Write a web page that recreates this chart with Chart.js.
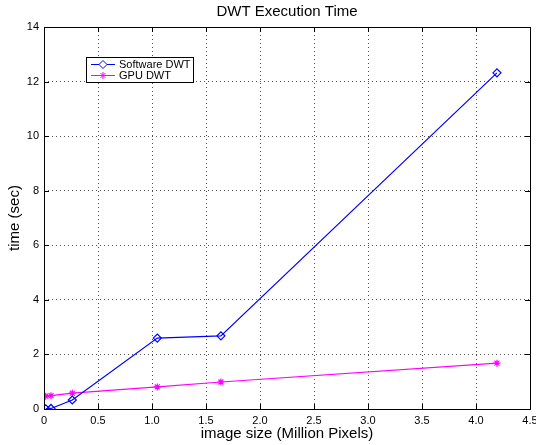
<!DOCTYPE html>
<html>
<head>
<meta charset="utf-8">
<script src="https://cdn.jsdelivr.net/npm/chart.js@4/dist/chart.umd.min.js"></script>
<style>
    body { margin: 0; background: #fff; }
    #wrap { width: 536px; height: 445px; }
</style>
</head>
<body>
<div id="wrap"><canvas id="dwtChart" width="536" height="445"></canvas></div>
<script>
// image sizes in million pixels (128^2 ... 2048^2)
const imageSizes = [0.016, 0.065, 0.262, 1.049, 1.638, 4.194];
const softwareTimes = [0.01, 0.02, 0.33, 2.6, 2.68, 12.32];
const gpuTimes = [0.47, 0.49, 0.58, 0.81, 0.99, 1.68];
const xTickValues = [0, 0.5, 1, 1.5, 2, 2.5, 3, 3.5, 4, 4.5];
const yTickValues = [0, 2, 4, 6, 8, 10, 12, 14];

const FONT = 'Liberation Sans, Arial, Helvetica, sans-serif';

function toPoints(xs, ys) {
    return xs.map((x, i) => ({ x: x, y: ys[i] }));
}

// box around the plot, inward ticks, legend box
const matlabFrame = {
    id: 'matlabFrame',
    afterLayout(chart) {
        // center the title over the axes, not the whole canvas
        if (chart.titleBlock) {
            chart.titleBlock.left = chart.chartArea.left;
            chart.titleBlock.right = chart.chartArea.right;
        }
    },
    afterDraw(chart) {
        const ctx = chart.ctx;
        const a = chart.chartArea;
        const xs = chart.scales.x, ys = chart.scales.y;
        ctx.save();
        ctx.strokeStyle = '#000';
        ctx.lineWidth = 1;
        ctx.strokeRect(Math.round(a.left) + 0.5, Math.round(a.top) + 0.5,
            Math.round(a.right - a.left), Math.round(a.bottom - a.top));

        // tick marks pointing inward on all four sides
        const len = 5;
        ctx.beginPath();
        xTickValues.forEach(v => {
            const px = Math.round(xs.getPixelForValue(v)) + 0.5;
            ctx.moveTo(px, a.bottom); ctx.lineTo(px, a.bottom - len);
            ctx.moveTo(px, a.top); ctx.lineTo(px, a.top + len);
        });
        yTickValues.forEach(v => {
            const py = Math.round(ys.getPixelForValue(v)) + 0.5;
            ctx.moveTo(a.left, py); ctx.lineTo(a.left + len, py);
            ctx.moveTo(a.right, py); ctx.lineTo(a.right - len, py);
        });
        ctx.stroke();

        // legend
        const lx = 86, ly = 57, lw = 107, lh = 25;
        ctx.fillStyle = '#fff';
        ctx.fillRect(lx, ly, lw, lh);
        ctx.strokeRect(lx + 0.5, ly + 0.5, lw, lh);
        ctx.font = '11px ' + FONT;
        ctx.textBaseline = 'middle';
        chart.data.datasets.forEach((ds, i) => {
            const y = ly + 7 + i * 11;
            ctx.strokeStyle = ds.borderColor;
            ctx.beginPath();
            ctx.moveTo(91, y + 0.5); ctx.lineTo(115, y + 0.5);
            ctx.stroke();
            Chart.helpers.drawPoint(ctx, {
                pointStyle: ds.pointStyle,
                radius: ds.pointRadius,
                borderWidth: 1
            }, 103, y + 0.5);
            ctx.fillStyle = '#000';
            ctx.fillText(ds.label, 119, y + 1);
        });
        ctx.restore();
    }
};

document.addEventListener('DOMContentLoaded', function() {
    initializeChart();
});

function initializeChart() {
    new Chart(document.getElementById('dwtChart'), {
        type: 'line',
        data: {
            datasets: [{
                label: 'Software DWT',
                data: toPoints(imageSizes, softwareTimes),
                borderColor: '#0000ff',
                backgroundColor: '#ffffff00',
                borderWidth: 1.2,
                pointStyle: 'rectRot',
                pointRadius: 4,
                pointBorderWidth: 1.2,
                pointBackgroundColor: 'rgba(0,0,0,0)',
                tension: 0
            }, {
                label: 'GPU DWT',
                data: toPoints(imageSizes, gpuTimes),
                borderColor: '#ff00ff',
                backgroundColor: '#ffffff00',
                borderWidth: 1.2,
                pointStyle: 'star',
                pointRadius: 3.5,
                pointBorderWidth: 1.2,
                tension: 0
            }]
        },
        options: {
            responsive: false,
            animation: false,
            events: [],
            layout: { padding: { right: 6 } },
            plugins: {
                legend: { display: false },
                tooltip: { enabled: false },
                title: {
                    display: true,
                    text: 'DWT Execution Time',
                    color: '#000',
                    font: { family: FONT, size: 15, weight: 'normal' },
                    padding: { top: 3, bottom: 6 }
                }
            },
            scales: {
                x: {
                    type: 'linear',
                    min: 0,
                    max: 4.5,
                    afterFit: s => { s.height = 36; s.paddingLeft = 0; s.paddingRight = 0; },
                    afterBuildTicks: s => { s.ticks = xTickValues.map(v => ({ value: v })); },
                    grid: { color: '#555', drawTicks: false },
                    border: { display: false, dash: [1, 3] },
                    ticks: {
                        color: '#000',
                        padding: 5,
                        maxRotation: 0,
                        font: { family: FONT, size: 11 }
                    },
                    title: {
                        display: true,
                        text: 'image size (Million Pixels)',
                        color: '#000',
                        font: { family: FONT, size: 15 },
                        padding: { top: 0, bottom: 2 }
                    }
                },
                y: {
                    min: 0,
                    max: 14,
                    afterFit: s => { s.width = 44; s.paddingTop = 0; s.paddingBottom = 0; },
                    afterBuildTicks: s => { s.ticks = yTickValues.map(v => ({ value: v })); },
                    grid: { color: '#555', drawTicks: false },
                    border: { display: false, dash: [1, 3] },
                    ticks: {
                        color: '#000',
                        padding: 5,
                        font: { family: FONT, size: 11 }
                    },
                    title: {
                        display: true,
                        text: 'time (sec)',
                        color: '#000',
                        font: { family: FONT, size: 15 },
                        padding: { top: 6, bottom: 0 }
                    }
                }
            }
        },
        plugins: [matlabFrame]
    });
}
</script>
</body>
</html>
